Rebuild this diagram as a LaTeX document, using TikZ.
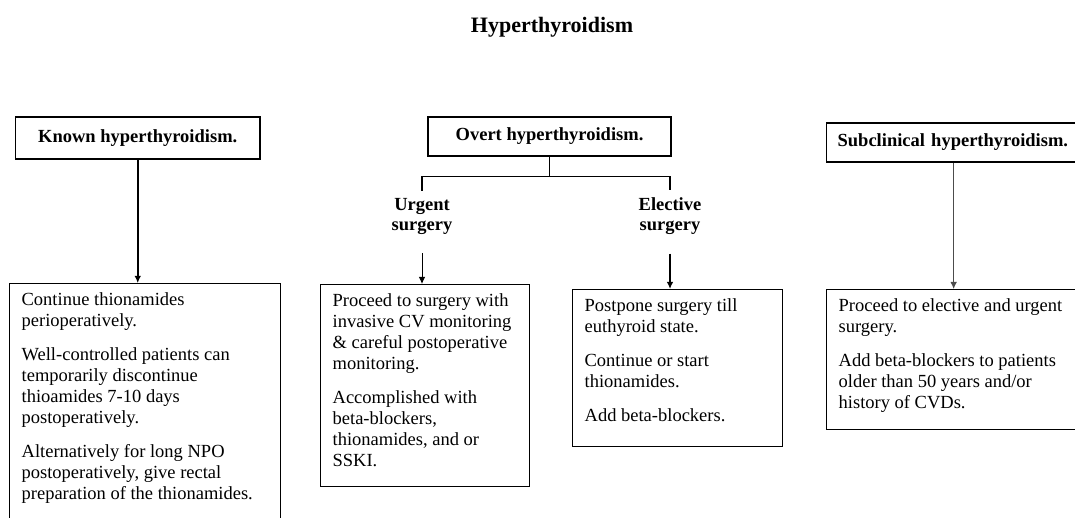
\documentclass[tikz,border=0pt]{standalone}
\usepackage{fontspec}
\setmainfont{Liberation Serif}
\usetikzlibrary{arrows.meta,positioning,calc}
\tikzset{
    head/.style = {draw, rectangle, line width=1.3pt, inner sep=0pt,
        font=\fontsize{18.5}{21}\selectfont\bfseries, align=center},
    branch/.style = {font=\fontsize{18.5}{20}\selectfont\bfseries, align=center, inner sep=2pt},
    notebox/.style = {draw, rectangle, line width=1.3pt, anchor=north west,
        inner xsep=12pt, inner ysep=7.5pt, font=\fontsize{18.5}{21}\selectfont},
    arrow/.style = {draw, ->, line width=1.6pt},
    thinarrow/.style = {draw, ->, line width=0.9pt}
}
\newcommand{\notes}[3]{\parbox[c][#1][t]{#2}{\raggedright\setlength{\parskip}{13pt}\strut#3}}

\begin{document}
\begin{tikzpicture}[x=1pt, y=1pt, >={Latex[length=7pt, width=6.5pt]}]
    \useasboundingbox (0,0) rectangle (1075,517);
    \clip (0,0) rectangle (1075,517);
    \node [anchor=base, font=\fontsize{22}{26}\selectfont\bfseries, name=title] at (552,484) {Hyperthyroidism};
    \node [head, minimum width=244.5pt, minimum height=42pt, name=known] at (137.75,379) {Known hyperthyroidism.};
    \node [head, minimum width=243pt, minimum height=39pt, name=overt] at (549.5,380.5) {Overt hyperthyroidism.};
    \node [head, anchor=west, minimum height=39pt, inner xsep=11pt, text width=248pt, align=left, name=subclin] at (826,374.5) {Subclinical hyperthyroidism.};
    \node [branch, name=urgent] at (422,301) {Urgent\\surgery};
    \node [branch, name=elective] at (670,301) {Elective\\surgery};
    \node [notebox, name=kbody] at (9,234) {\notes{242pt}{247pt}{Continue thionamides\\perioperatively.\par
        Well-controlled patients can\\temporarily discontinue\\thioamides 7-10 days\\postoperatively.\par
        Alternatively for long NPO\\postoperatively, give rectal\\preparation of the thionamides.}};
    \node [notebox, name=ubody] at (320,233) {\notes{187pt}{185pt}{Proceed to surgery with\\invasive CV monitoring\\\& careful postoperative\\monitoring.\par
        Accomplished with\\beta-blockers,\\thionamides, and or\\SSKI.}};
    \node [notebox, name=ebody] at (572,228) {\notes{142pt}{186pt}{Postpone surgery till\\euthyroid state.\par
        Continue or start\\thionamides.\par
        Add beta-blockers.}};
    \node [notebox, name=sbody] at (826,228) {\notes{125pt}{246pt}{Proceed to elective and urgent\\surgery.\par
        Add beta-blockers to patients\\older than 50 years and/or\\history of CVDs.}};
    \coordinate [below=20pt of overt.south] (split);
    \draw [line width=1.3pt] (overt.south) -- (split);
    \draw [line width=1.3pt] ([yshift=5pt]urgent.north) |- (split) -| ([yshift=5pt]elective.north);
    \draw [arrow] (known.south) -- (known.south |- kbody.north);
    \draw [thinarrow] ([yshift=-17pt]urgent.south) -- (urgent.south |- ubody.north);
    \draw [arrow] ([yshift=-17pt]elective.south) -- (elective.south |- ebody.north);
    \draw [thinarrow, draw=black!70] ([xshift=-8pt]subclin.south) -- ([xshift=-8pt]subclin.south |- sbody.north);
\end{tikzpicture}
\end{document}
